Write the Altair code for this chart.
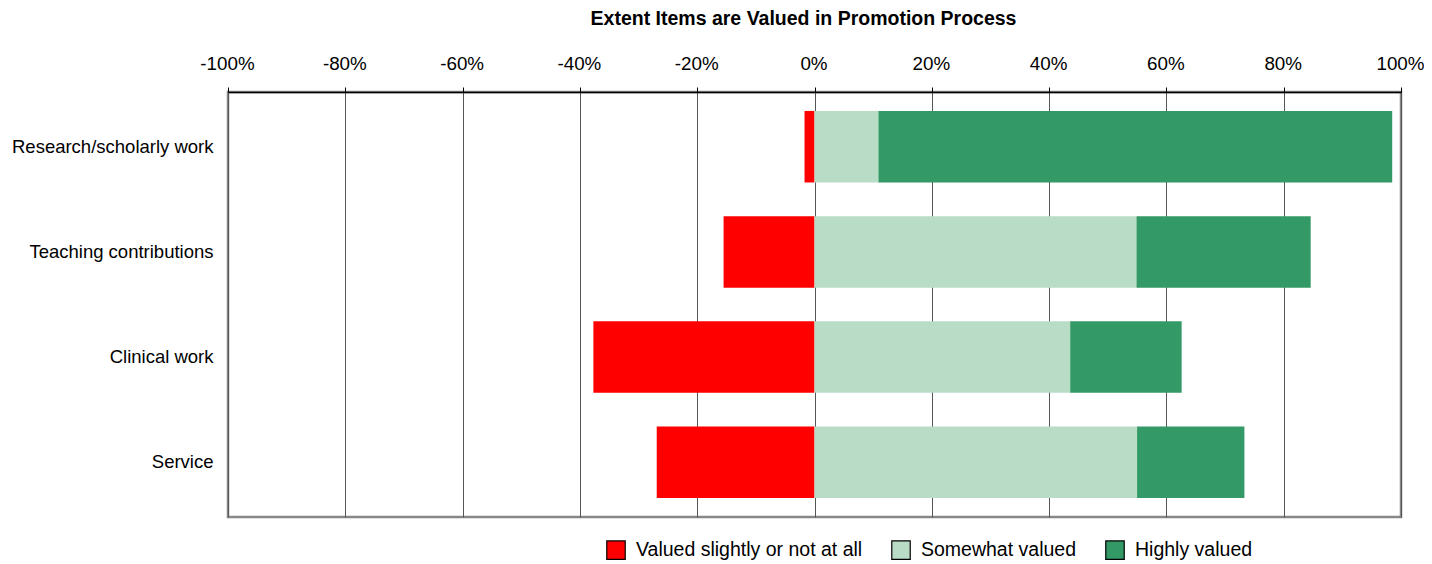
import altair as alt
import pandas as pd

categories = ["Research/scholarly work", "Teaching contributions", "Clinical work", "Service"]
not_valued = [1.7, 15.5, 37.7, 26.9]
somewhat_valued = [10.9, 54.9, 43.6, 55.0]
highly_valued = [87.6, 29.7, 19.0, 18.3]
series_names = ["Valued slightly or not at all", "Somewhat valued", "Highly valued"]
series_colors = ["#ff0000", "#b9dcc7", "#339966"]
tick_values = [-100, -80, -60, -40, -20, 0, 20, 40, 60, 80, 100]

rows = []
for i, c in enumerate(categories):
    rows.append({"cat": c, "series": series_names[0], "start": -not_valued[i], "end": 0.0})
    rows.append({"cat": c, "series": series_names[1], "start": 0.0, "end": somewhat_valued[i]})
    rows.append({"cat": c, "series": series_names[2], "start": somewhat_valued[i],
                 "end": somewhat_valued[i] + highly_valued[i]})
df = pd.DataFrame(rows)

FONT = "Liberation Sans"

bars = alt.Chart(df).mark_bar(strokeWidth=0).encode(
    y=alt.Y("cat:N", sort=categories, title=None,
            scale=alt.Scale(paddingInner=0.32, paddingOuter=0.18),
            axis=alt.Axis(ticks=False, domain=False, labelFontSize=18.5, labelColor="#000",
                          labelPadding=15, labelFont=FONT, labelLimit=400)),
    x=alt.X("start:Q", title=None,
            scale=alt.Scale(domain=[-100, 100], nice=False),
            axis=alt.Axis(orient="top", values=tick_values, labelExpr="datum.value + '%'",
                          labelFontSize=18.8, labelFont=FONT, labelColor="#000",
                          labelFlush=False, labelOverlap=False, labelBound=False,
                          labelOffset=-1,
                          grid=True, gridColor="#555", gridWidth=1,
                          domainColor="#000", domainWidth=1.5,
                          tickColor="#000", tickSize=5, labelPadding=14)),
    x2="end:Q",
    color=alt.Color("series:N", sort=series_names,
                    scale=alt.Scale(domain=series_names, range=series_colors),
                    legend=alt.Legend(title=None, orient="none", direction="horizontal",
                                      legendX=378, legendY=448,
                                      symbolType="square", symbolSize=340,
                                      symbolStrokeColor="#000", symbolStrokeWidth=1.2,
                                      symbolOpacity=1, labelLimit=500,
                                      labelFontSize=19.5, labelFont=FONT, labelColor="#000",
                                      columnPadding=26, labelOffset=10)),
)

chart = bars.properties(
    width=1173, height=425,
    title=alt.TitleParams("Extent Items are Valued in Promotion Process",
                          fontSize=19.5, font=FONT, fontWeight="bold", color="#000",
                          anchor="middle", dx=-11, offset=25),
    autosize=alt.AutoSizeParams(type="none"),
    padding={"left": 220, "top": 84, "right": 23, "bottom": 46},
).configure_view(stroke="#888", strokeWidth=2.5)

chart.save("out.html", embed_options={"renderer": "svg", "actions": False})
